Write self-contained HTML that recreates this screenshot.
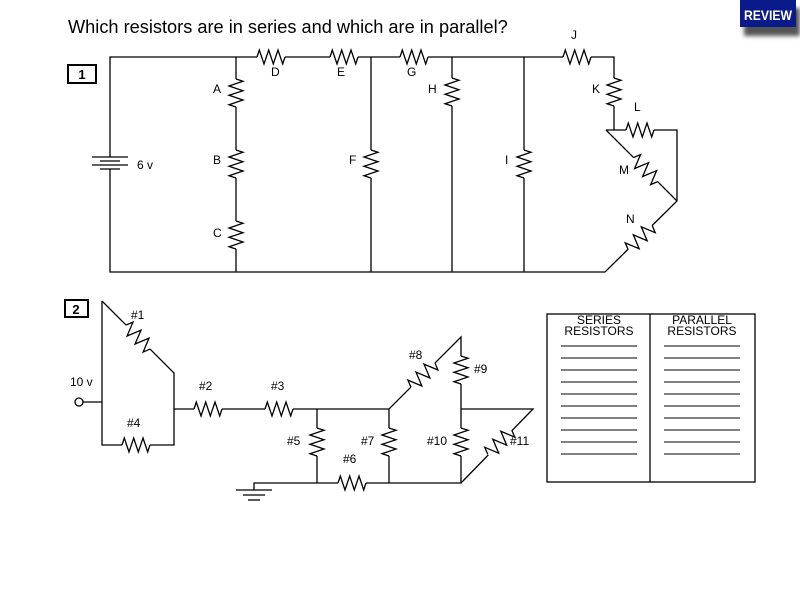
<!DOCTYPE html>
<html><head><meta charset="utf-8"><style>
body{margin:0;background:#fff;}
svg{display:block;font-family:"Liberation Sans",sans-serif;}
</style></head><body>
<svg width="800" height="600" viewBox="0 0 800 600" xmlns="http://www.w3.org/2000/svg">
<defs>
<g id="r"><line x1="0" y1="0" x2="28" y2="0" stroke="#fff" stroke-width="4"/><polyline points="0,0 2.3,-7 7,7 11.7,-7 16.3,7 21,-7 25.7,7 28,0" fill="none" stroke="#000" stroke-width="1.3"/></g>
<g id="rd"><line x1="0" y1="0" x2="34" y2="0" stroke="#fff" stroke-width="4"/><polyline points="0,0 2.8,-7 8.5,7 14.2,-7 19.8,7 25.5,-7 31.2,7 34,0" fill="none" stroke="#000" stroke-width="1.3"/></g>
<filter id="sh" x="-20%" y="-20%" width="150%" height="200%"><feGaussianBlur stdDeviation="2"/></filter>
</defs>
<rect width="800" height="600" fill="#fff"/>
<text x="68" y="33" font-size="18.2">Which resistors are in series and which are in parallel?</text>
<!-- review badge -->
<rect x="744" y="8" width="56" height="28" fill="#555" filter="url(#sh)"/>
<rect x="740" y="0" width="56" height="27" fill="#0a1a8a"/>
<text x="768" y="20" font-size="14" font-weight="bold" fill="#fff" text-anchor="middle" textLength="48" lengthAdjust="spacingAndGlyphs">REVIEW</text>

<g stroke="#000" stroke-width="1.3" fill="none">
<path d="M110,157 V57 H614 V130 H606 M614,130 H677 V201 L605,272 H110 V169"/>
<path d="M606,130 L677,201"/>
<path d="M236,57 V272 M371,57 V272 M452,57 V272 M524,57 V272"/>
<line x1="92" y1="157" x2="128" y2="157"/><line x1="100" y1="161" x2="120" y2="161"/>
<line x1="92" y1="165" x2="128" y2="165"/><line x1="100" y1="169" x2="120" y2="169"/>
<rect x="68" y="65" width="28" height="18" stroke-width="2"/>
<rect x="65" y="300" width="23" height="17" stroke-width="2"/>
<circle cx="79" cy="402" r="4"/>
<path d="M83,402 H102 M102,301 V445 H174 V373 L102,301 M174,409 H389 L461,337 V483 H254 V490 M317,409 V483 M389,409 V483 M461,409 H533 L461,483"/>
<line x1="236" y1="490" x2="272" y2="490"/><line x1="243" y1="495" x2="265" y2="495"/><line x1="248" y1="500" x2="260" y2="500"/>
<rect x="547" y="314" width="208" height="168"/>
<line x1="650" y1="314" x2="650" y2="482"/>
</g>
<g stroke="#000" stroke-width="1.1">
<line x1="561" x2="637" y1="346" y2="346"/><line x1="664" x2="740" y1="346" y2="346"/>
<line x1="561" x2="637" y1="358" y2="358"/><line x1="664" x2="740" y1="358" y2="358"/>
<line x1="561" x2="637" y1="370" y2="370"/><line x1="664" x2="740" y1="370" y2="370"/>
<line x1="561" x2="637" y1="382" y2="382"/><line x1="664" x2="740" y1="382" y2="382"/>
<line x1="561" x2="637" y1="394" y2="394"/><line x1="664" x2="740" y1="394" y2="394"/>
<line x1="561" x2="637" y1="406" y2="406"/><line x1="664" x2="740" y1="406" y2="406"/>
<line x1="561" x2="637" y1="418" y2="418"/><line x1="664" x2="740" y1="418" y2="418"/>
<line x1="561" x2="637" y1="430" y2="430"/><line x1="664" x2="740" y1="430" y2="430"/>
<line x1="561" x2="637" y1="442" y2="442"/><line x1="664" x2="740" y1="442" y2="442"/>
<line x1="561" x2="637" y1="454" y2="454"/><line x1="664" x2="740" y1="454" y2="454"/>
</g>
<svg x="547" y="315" width="208" height="30" overflow="hidden">
<g font-size="12" text-anchor="middle"><text x="52" y="9">SERIES</text><text x="52" y="20">RESISTORS</text><text x="155" y="9">PARALLEL</text><text x="155" y="20">RESISTORS</text></g>
</svg>

<use href="#r" transform="translate(257,57)"/>
<use href="#r" transform="translate(330,57)"/>
<use href="#r" transform="translate(400,57)"/>
<use href="#r" transform="translate(563,57)"/>
<use href="#r" transform="translate(236,79) rotate(90)"/>
<use href="#r" transform="translate(236,150) rotate(90)"/>
<use href="#r" transform="translate(236,221) rotate(90)"/>
<use href="#r" transform="translate(371,150) rotate(90)"/>
<use href="#r" transform="translate(452,78) rotate(90)"/>
<use href="#r" transform="translate(524,150) rotate(90)"/>
<use href="#r" transform="translate(614,78) rotate(90)"/>
<use href="#r" transform="translate(626,130)"/>
<use href="#rd" transform="translate(606,130) rotate(45) translate(39,0)"/>
<use href="#rd" transform="translate(677,201) rotate(135) translate(35,0)"/>
<use href="#rd" transform="translate(102,301) rotate(45) translate(34,0)"/>
<use href="#r" transform="translate(122,445)"/>
<use href="#r" transform="translate(194,409)"/>
<use href="#r" transform="translate(265,409)"/>
<use href="#r" transform="translate(317,428) rotate(90)"/>
<use href="#r" transform="translate(389,428) rotate(90)"/>
<use href="#r" transform="translate(338,483)"/>
<use href="#rd" transform="translate(389,409) rotate(-45) translate(31,0)"/>
<use href="#r" transform="translate(461,356) rotate(90)"/>
<use href="#r" transform="translate(461,428) rotate(90)"/>
<use href="#rd" transform="translate(533,409) rotate(135) translate(30,0)"/>

<g font-size="12">
<text x="82" y="79" font-weight="bold" text-anchor="middle" font-size="13">1</text>
<text x="76" y="314" font-weight="bold" text-anchor="middle" font-size="13">2</text>
<text x="137" y="169">6 v</text>
<text x="213" y="93">A</text><text x="213" y="164">B</text><text x="213" y="237">C</text>
<text x="271" y="76">D</text><text x="337" y="76">E</text><text x="407" y="76">G</text>
<text x="349" y="164">F</text><text x="428" y="93">H</text><text x="505" y="164">I</text>
<text x="571" y="39">J</text><text x="592" y="93">K</text><text x="634" y="111">L</text>
<text x="619" y="174">M</text><text x="626" y="223">N</text>
<text x="70" y="386">10 v</text>
<text x="131" y="319">#1</text><text x="199" y="390">#2</text><text x="271" y="390">#3</text>
<text x="127" y="427">#4</text><text x="287" y="445">#5</text><text x="343" y="463">#6</text>
<text x="361" y="445">#7</text><text x="409" y="359">#8</text><text x="474" y="373">#9</text>
<text x="427" y="445">#10</text><text x="510" y="445">#11</text>
</g>
</svg>
</body></html>
